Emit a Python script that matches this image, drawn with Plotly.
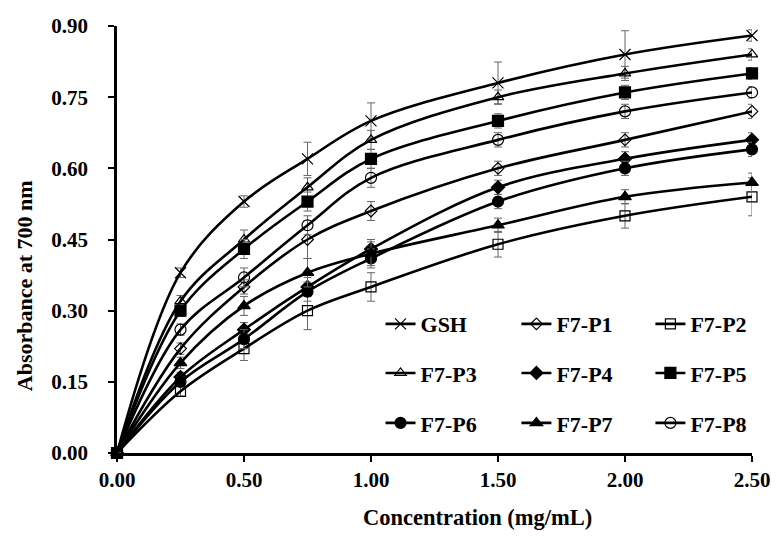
import plotly.graph_objects as go

conc = [0.0, 0.25, 0.5, 0.75, 1.0, 1.5, 2.0, 2.5]

names = ["GSH", "F7-P1", "F7-P2", "F7-P3", "F7-P4", "F7-P5", "F7-P6", "F7-P7", "F7-P8"]

gsh = [0.0, 0.38, 0.53, 0.62, 0.70, 0.78, 0.84, 0.88]
p1 = [0.0, 0.22, 0.35, 0.45, 0.51, 0.60, 0.66, 0.72]
p2 = [0.0, 0.13, 0.22, 0.30, 0.35, 0.44, 0.50, 0.54]
p3 = [0.0, 0.32, 0.45, 0.56, 0.66, 0.75, 0.80, 0.84]
p4 = [0.0, 0.16, 0.26, 0.35, 0.43, 0.56, 0.62, 0.66]
p5 = [0.0, 0.30, 0.43, 0.53, 0.62, 0.70, 0.76, 0.80]
p6 = [0.0, 0.15, 0.24, 0.34, 0.41, 0.53, 0.60, 0.64]
p7 = [0.0, 0.19, 0.31, 0.38, 0.42, 0.48, 0.54, 0.57]
p8 = [0.0, 0.26, 0.37, 0.48, 0.58, 0.66, 0.72, 0.76]

gsh_err = [0.0, 0.01, 0.012, 0.035, 0.038, 0.044, 0.05, 0.012]
p1_err = [0.0, 0.012, 0.015, 0.04, 0.02, 0.015, 0.015, 0.015]
p2_err = [0.0, 0.01, 0.025, 0.04, 0.03, 0.027, 0.026, 0.04]
p3_err = [0.0, 0.012, 0.02, 0.02, 0.02, 0.015, 0.015, 0.012]
p4_err = [0.0, 0.01, 0.015, 0.02, 0.02, 0.015, 0.015, 0.015]
p5_err = [0.0, 0.012, 0.02, 0.02, 0.02, 0.015, 0.015, 0.012]
p6_err = [0.0, 0.01, 0.02, 0.02, 0.02, 0.015, 0.015, 0.015]
p7_err = [0.0, 0.012, 0.02, 0.03, 0.025, 0.015, 0.015, 0.02]
p8_err = [0.0, 0.012, 0.02, 0.02, 0.02, 0.015, 0.015, 0.012]

values = [gsh, p1, p2, p3, p4, p5, p6, p7, p8]
errors = [gsh_err, p1_err, p2_err, p3_err, p4_err, p5_err, p6_err, p7_err, p8_err]
symbols = ["x-thin-open", "diamond-open", "square-open", "triangle-up-open", "diamond",
           "square", "circle", "triangle-up", "circle-open"]
sizes = [11, 9, 10, 10, 10, 11, 11, 11, 11]

# legend grid: (row, col)
leg_pos = [(0, 0), (0, 1), (0, 2), (1, 0), (1, 1), (1, 2), (2, 0), (2, 1), (2, 2)]
col_x = [0.415, 0.629, 0.840]
row_y = [0.302, 0.187, 0.070]

FONT = "Liberation Serif"

fig = go.Figure()
for i, (n, v, e, s, sz) in enumerate(zip(names, values, errors, symbols, sizes)):
    lname = "legend" if i == 0 else f"legend{i+1}"
    fig.add_trace(go.Scatter(
        x=conc, y=v, name=n, mode="lines+markers",
        line=dict(color="black", width=2.6, shape="spline", smoothing=1.0),
        marker=dict(symbol=s, size=sz, color="black",
                    line=dict(color="black", width=1.2)),
        error_y=dict(type="data", array=e, visible=True, color="#666666",
                     thickness=1, width=4),
        cliponaxis=False,
        legend=lname,
    ))

legends = {}
for i in range(9):
    r, c = leg_pos[i]
    key = "legend" if i == 0 else f"legend{i+1}"
    legends[key] = dict(
        x=col_x[c], y=row_y[r], xanchor="left", yanchor="middle",
        bgcolor="rgba(0,0,0,0)", borderwidth=0,
        font=dict(family=FONT, size=22, color="black", weight="bold"),
        itemclick=False, itemdoubleclick=False,
    )

# page body has an 8px default margin, so the figure is sized to fit the window
fig.update_layout(
    width=773, height=529,
    margin=dict(l=109, r=29, t=18, b=84, autoexpand=False),
    paper_bgcolor="white", plot_bgcolor="white",
    showlegend=True,
    font=dict(family=FONT, color="black"),
    **legends,
)

fig.update_xaxes(
    range=[0, 2.5], tickvals=[0, 0.5, 1.0, 1.5, 2.0, 2.5], tickformat=".2f",
    showgrid=False, zeroline=False, automargin=False,
    showline=True, linecolor="black", linewidth=2.5,
    ticks="outside", ticklen=6, tickwidth=2, tickcolor="black",
    ticklabelstandoff=0,
    tickfont=dict(family=FONT, size=21, color="black", weight="bold"),
)
fig.update_yaxes(
    range=[0, 0.9], tickvals=[0, 0.15, 0.30, 0.45, 0.60, 0.75, 0.90], tickformat=".2f",
    showgrid=False, zeroline=False, automargin=False,
    showline=True, linecolor="black", linewidth=2.5,
    ticks="outside", ticklen=6, tickwidth=2, tickcolor="black",
    ticklabelstandoff=16,
    tickfont=dict(family=FONT, size=21, color="black", weight="bold"),
)

fig.add_annotation(
    text="Concentration (mg/mL)", xref="paper", yref="paper",
    x=0.567, y=-0.15, xanchor="center", yanchor="middle", showarrow=False,
    font=dict(family=FONT, size=22.5, color="black", weight="bold"),
)
fig.add_annotation(
    text="Absorbance at 700 nm", xref="paper", yref="paper",
    x=-0.1465, y=0.393, xanchor="center", yanchor="middle", showarrow=False,
    textangle=-90,
    font=dict(family=FONT, size=22, color="black", weight="bold"),
)

fig.write_html("out.html")
